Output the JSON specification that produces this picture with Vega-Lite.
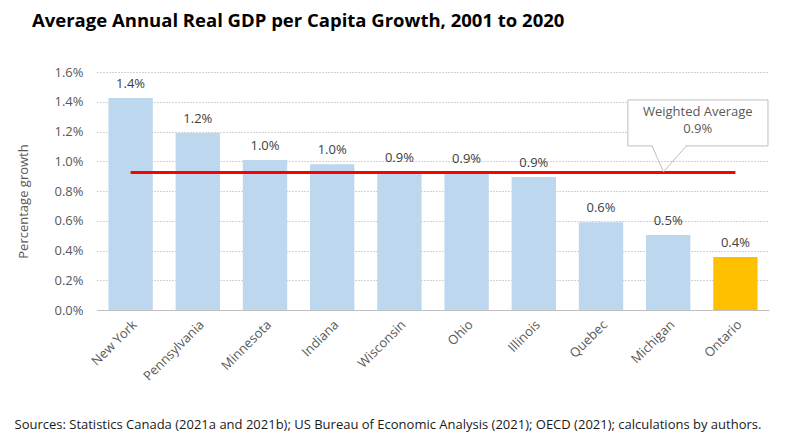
{
  "$schema": "https://vega.github.io/schema/vega-lite/v6.json",
  "autosize": "none",
  "width": 672,
  "height": 238,
  "padding": {"left": 97, "top": 72, "right": 15, "bottom": 134},
  "background": "white",
  "config": {"view": {"stroke": null}, "font": "Open Sans"},
  "title": {
    "text": "Average Annual Real GDP per Capita Growth, 2001 to 2020",
    "anchor": "start",
    "frame": "group",
    "dx": -65,
    "offset": 36,
    "fontSize": 18.5,
    "fontWeight": "bold",
    "font": "Open Sans",
    "color": "#000000"
  },
  "datasets": {
    "bars": [
      {"region": "New York", "growth": 0.01425, "kind": "other", "avg": 0.00924},
      {"region": "Pennsylvania", "growth": 0.0119, "kind": "other", "avg": 0.00924},
      {"region": "Minnesota", "growth": 0.01008, "kind": "other", "avg": 0.00924},
      {"region": "Indiana", "growth": 0.0098, "kind": "other", "avg": 0.00924},
      {"region": "Wisconsin", "growth": 0.0093, "kind": "other", "avg": 0.00924},
      {"region": "Ohio", "growth": 0.0092, "kind": "other", "avg": 0.00924},
      {"region": "Illinois", "growth": 0.00894, "kind": "other", "avg": 0.00924},
      {"region": "Quebec", "growth": 0.0059, "kind": "other", "avg": 0.00924},
      {"region": "Michigan", "growth": 0.00504, "kind": "other", "avg": 0.00924},
      {"region": "Ontario", "growth": 0.00356, "kind": "ontario", "avg": 0.00924}
    ],
    "box": [{"x1": 7.9, "x2": 9.985, "y1": 0.01103, "y2": 0.01412}],
    "pointer": [
      {"px": 8.26, "py": 0.01103, "o": 1},
      {"px": 8.43, "py": 0.00928, "o": 2},
      {"px": 8.77, "py": 0.01103, "o": 3}
    ],
    "gap": [{"gx1": 8.27, "gx2": 8.76, "gy": 0.01103}],
    "calltext": [
      {"tx": 8.94, "ty": 0.01331, "label": "Weighted Average"},
      {"tx": 8.94, "ty": 0.01217, "label": "0.9%"}
    ]
  },
  "resolve": {"scale": {"x": "independent"}, "axis": {"y": "independent"}},
  "layer": [
    {
      "data": {"name": "bars"},
      "encoding": {
        "x": {
          "field": "region",
          "type": "nominal",
          "sort": null,
          "scale": {"paddingInner": 0.34, "paddingOuter": 0.17},
          "axis": {
            "title": "Sources: Statistics Canada (2021a and 2021b); US Bureau of Economic Analysis (2021); OECD (2021); calculations by authors.",
            "titleAnchor": "start",
            "titleAlign": "left",
            "titleX": -83,
            "titleY": 118,
            "titleBaseline": "alphabetic",
            "titleFontSize": 13,
            "titleFontWeight": "normal",
            "titleColor": "#1a1a1a",
            "titleFont": "Open Sans",
            "labelAngle": -45,
            "labelAlign": "right",
            "labelBaseline": "top",
            "labelFontSize": 13,
            "labelColor": "#595959",
            "labelPadding": 8,
            "ticks": false,
            "domainColor": "#bfbfbf",
            "domainWidth": 1
          }
        }
      },
      "layer": [
        {
          "mark": {"type": "bar"},
          "encoding": {
            "y": {
              "field": "growth",
              "type": "quantitative",
              "scale": {"domain": [0, 0.016], "nice": false},
              "axis": {
                "title": "Percentage growth",
                "titleFontSize": 13,
                "titleFontWeight": "normal",
                "titleColor": "#595959",
                "titleX": -67,
                "titleY": 129,
                "format": ".1%",
                "values": [0, 0.002, 0.004, 0.006, 0.008, 0.01, 0.012, 0.014, 0.016],
                "tickCount": 20,
                "labelOverlap": false,
                "labelFontSize": 13,
                "labelColor": "#595959",
                "labelPadding": 14,
                "ticks": false,
                "domain": false,
                "gridColor": "#a6a6a6",
                "gridDash": [1, 2],
                "gridWidth": 1
              }
            },
            "color": {
              "field": "kind",
              "type": "nominal",
              "scale": {"domain": ["other", "ontario"], "range": ["#BDD7EE", "#FFC000"]},
              "legend": null
            }
          }
        },
        {
          "mark": {"type": "text", "baseline": "bottom", "dy": -7, "fontSize": 13, "color": "#404040"},
          "encoding": {
            "y": {"field": "growth", "type": "quantitative"},
            "text": {"field": "growth", "type": "quantitative", "format": ".1%"}
          }
        },
        {
          "mark": {"type": "line", "color": "#FF0000", "strokeWidth": 3},
          "encoding": {"y": {"field": "avg", "type": "quantitative"}}
        }
      ]
    },
    {
      "layer": [
        {
          "data": {"name": "box"},
          "mark": {"type": "rect", "fill": "white", "stroke": "#bfbfbf", "strokeWidth": 1},
          "encoding": {
            "x": {"field": "x1", "type": "quantitative", "scale": {"domain": [0, 10], "nice": false}, "axis": null},
            "x2": {"field": "x2"},
            "y": {"field": "y1", "type": "quantitative", "axis": null},
            "y2": {"field": "y2"}
          }
        },
        {
          "data": {"name": "gap"},
          "mark": {"type": "rule", "color": "white", "strokeWidth": 2},
          "encoding": {
            "x": {"field": "gx1", "type": "quantitative", "scale": {"domain": [0, 10], "nice": false}, "axis": null},
            "x2": {"field": "gx2"},
            "y": {"field": "gy", "type": "quantitative", "axis": null}
          }
        },
        {
          "data": {"name": "pointer"},
          "mark": {"type": "line", "color": "#bfbfbf", "strokeWidth": 1},
          "encoding": {
            "x": {"field": "px", "type": "quantitative", "scale": {"domain": [0, 10], "nice": false}, "axis": null},
            "y": {"field": "py", "type": "quantitative", "axis": null},
            "order": {"field": "o"}
          }
        },
        {
          "data": {"name": "calltext"},
          "mark": {"type": "text", "fontSize": 13, "color": "#595959", "baseline": "middle", "align": "center"},
          "encoding": {
            "x": {"field": "tx", "type": "quantitative", "scale": {"domain": [0, 10], "nice": false}, "axis": null},
            "y": {"field": "ty", "type": "quantitative", "axis": null},
            "text": {"field": "label"}
          }
        }
      ]
    }
  ]
}
